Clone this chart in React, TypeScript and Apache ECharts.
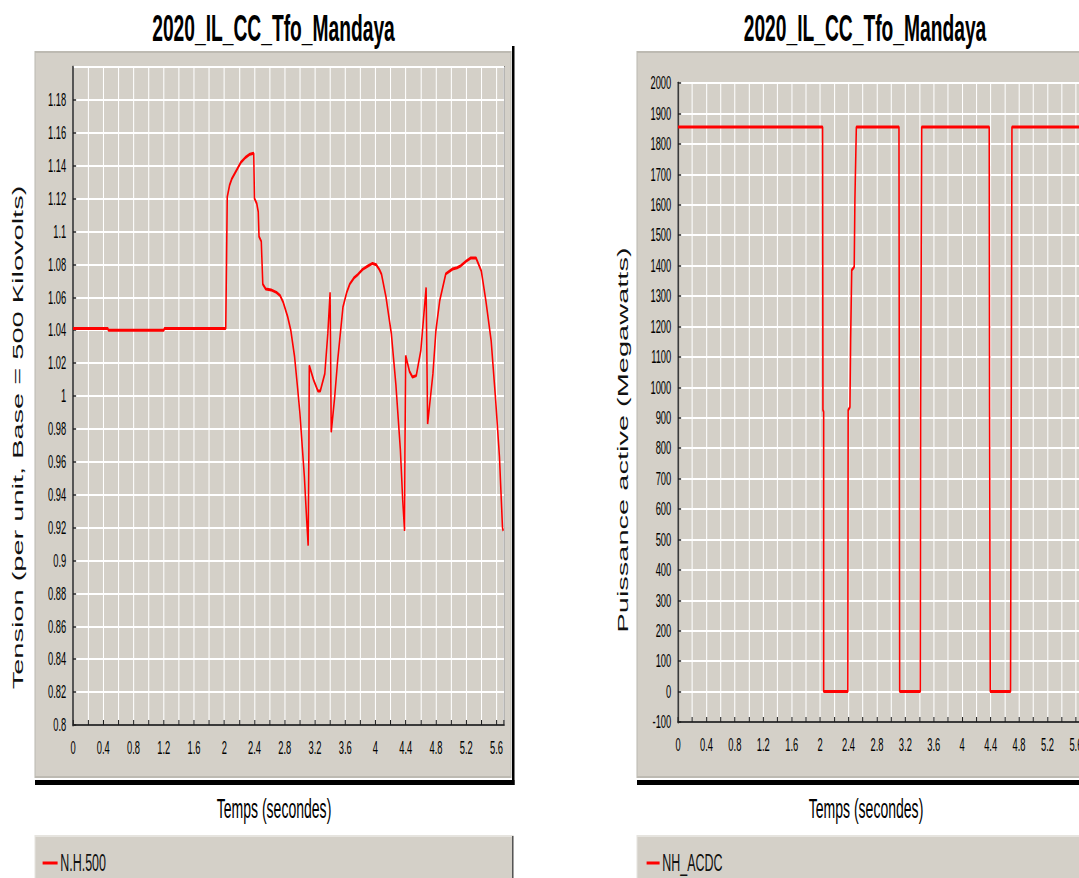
import React, { useEffect, useRef } from "react";
import * as echarts from "echarts";

// ---------- data ----------
const titleText = "2020_IL_CC_Tfo_Mandaya";
const xAxisTitle = "Temps (secondes)";
const leftYTitle = "Tension (per unit, Base = 500 Kilovolts)";
const rightYTitle = "Puissance active (Megawatts)";
const leftSeriesName = "N.H.500";
const rightSeriesName = "NH_ACDC";

const tensionTime = [
  0, 0.46, 0.47, 1.2, 1.21, 2.02, 2.03, 2.04, 2.07, 2.1, 2.16, 2.22, 2.28, 2.34, 2.39,
  2.4, 2.43, 2.45, 2.46, 2.49, 2.51, 2.55, 2.62, 2.69, 2.74, 2.78, 2.84, 2.88, 2.93,
  2.97, 3.0, 3.06, 3.09, 3.11, 3.12, 3.125, 3.18, 3.24, 3.27, 3.33, 3.37, 3.4, 3.415,
  3.46, 3.5, 3.57, 3.62, 3.66, 3.72, 3.77, 3.83, 3.9, 3.96, 4.01, 4.05, 4.08, 4.14,
  4.21, 4.27, 4.33, 4.36, 4.385, 4.39, 4.4, 4.45, 4.49, 4.54, 4.6, 4.67, 4.69, 4.76,
  4.8, 4.85, 4.93, 5.02, 5.08, 5.13, 5.2, 5.26, 5.33, 5.4, 5.46, 5.53, 5.59, 5.64,
  5.68, 5.69,
];
const tensionValue = [
  1.041, 1.041, 1.04, 1.04, 1.041, 1.041, 1.08, 1.121, 1.128, 1.132, 1.137, 1.142, 1.145, 1.147, 1.1476,
  1.12, 1.117, 1.112, 1.097, 1.094, 1.068, 1.065, 1.0645, 1.063, 1.061, 1.057, 1.048, 1.04, 1.024,
  1.005, 0.99, 0.951, 0.925, 0.909, 0.97, 1.0185, 1.01, 1.003, 1.003, 1.0135, 1.038, 1.063, 0.978,
  0.999, 1.0215, 1.054, 1.063, 1.068, 1.072, 1.074, 1.077, 1.079, 1.0806, 1.0798, 1.077, 1.074, 1.06,
  1.038, 1.007, 0.967, 0.937, 0.918, 0.965, 1.0246, 1.015, 1.0115, 1.0124, 1.0276, 1.066, 0.983, 1.0135,
  1.04, 1.058, 1.0742, 1.0772, 1.078, 1.0792, 1.082, 1.0839, 1.0839, 1.076, 1.058, 1.0337, 0.9973, 0.963,
  0.92, 0.918,
];

const powerTime = [
  0, 2.035, 2.04, 2.05, 2.05, 2.39, 2.395, 2.42, 2.43, 2.445, 2.48, 2.49, 2.51,
  3.11, 3.115, 3.12, 3.41, 3.415, 3.43, 4.38, 4.385, 4.395, 4.68, 4.69, 4.7, 5.75,
];
const powerValue = [
  1855, 1855, 925, 920, 0, 0, 925, 935, 1160, 1385, 1395, 1620, 1855,
  1855, 930, 0, 0, 930, 1855, 1855, 930, 0, 0, 930, 1855, 1855,
];

const leftYMin = 0.8;
const leftYMax = 1.2;
const leftYStep = 0.02;
const rightYMin = -100;
const rightYMax = 2000;
const rightYStep = 100;
const xMin = 0;
const xMax = 5.7;
const xStep = 0.2;

// ---------- layout ----------
const S = 0.52; // horizontal squeeze of the whole picture
const CW = 2200;
const CH = 878;
const X = (px: number) => px / S;
const FONT = '"Liberation Sans", Arial, sans-serif';
const PANEL = "#d4d0c8";

function panelGraphics(x0: number, x1: number, titleCx: number, axisCx: number, yTitle: string, yTitleX: number, yTitleY: number) {
  return [
    { type: "rect", silent: true, z: -10, shape: { x: X(x0), y: 52, width: X(x1) - X(x0), height: 725 }, style: { fill: PANEL, stroke: "#bdbab2", lineWidth: 2 } },
    { type: "rect", silent: true, z: -10, shape: { x: X(x1 + 1), y: 46, width: X(x1 + 3.5) - X(x1 + 1), height: 739 }, style: { fill: "#000" } },
    { type: "rect", silent: true, z: -10, shape: { x: X(x0), y: 780, width: X(x1 + 3.5) - X(x0), height: 5 }, style: { fill: "#000" } },
    { type: "rect", silent: true, z: -10, shape: { x: X(x0), y: 836, width: X(x1 + 2) - X(x0), height: 60 }, style: { fill: PANEL, stroke: "#e6e4df", lineWidth: 2 } },
    { type: "rect", silent: true, z: -9, shape: { x: X(x1 + 1), y: 836, width: X(x1 + 2.5) - X(x1 + 1), height: 60 }, style: { fill: "#555" } },
    { type: "text", silent: true, x: X(titleCx), y: 28, style: { text: titleText, font: `bold 37px ${FONT}`, fill: "#000", align: "center", verticalAlign: "middle", textAlign: "center", textVerticalAlign: "middle" } },
    { type: "text", silent: true, x: X(axisCx), y: 809, style: { text: xAxisTitle, font: `27px ${FONT}`, fill: "#000", align: "center", verticalAlign: "middle", textAlign: "center", textVerticalAlign: "middle" } },
    { type: "text", silent: true, x: X(yTitleX), y: yTitleY, rotation: Math.PI / 2, style: { text: yTitle, font: `29px ${FONT}`, fill: "#111", align: "center", verticalAlign: "middle", textAlign: "center", textVerticalAlign: "middle" } },
  ];
}

function xAxisCfg(gridIndex: number) {
  return {
    type: "value",
    gridIndex,
    min: xMin,
    max: xMax,
    interval: xStep,
    axisLine: { show: true, onZero: false, lineStyle: { color: "#3a3a3a", width: 2 } },
    axisTick: { show: true, inside: true, length: 5, lineStyle: { color: "#202020", width: 2 } },
    axisLabel: {
      color: "#000",
      fontSize: 18,
      fontFamily: FONT,
      margin: 14,
      formatter: (v: number) => (Math.round(v * 10) % 4 === 0 ? String(+v.toFixed(1)) : ""),
    },
    splitLine: { show: true, lineStyle: { color: "#ffffff", width: 2 } },
  };
}

function yAxisCfg(gridIndex: number, min: number, max: number, step: number, showMax: boolean) {
  return {
    type: "value",
    gridIndex,
    min,
    max,
    interval: step,
    axisLine: { show: true, onZero: false, lineStyle: { color: "#3a3a3a", width: 3 } },
    axisTick: { show: true, inside: true, length: 6, lineStyle: { color: "#202020", width: 1.5 } },
    axisLabel: {
      color: "#000",
      fontSize: 18,
      fontFamily: FONT,
      margin: 13,
      showMaxLabel: showMax,
      showMinLabel: true,
      formatter: (v: number) => String(+v.toFixed(2)),
    },
    splitLine: { show: true, lineStyle: { color: "#ffffff", width: 2 } },
  };
}

export default function App() {
  const ref = useRef<HTMLDivElement>(null);
  useEffect(() => {
    if (!ref.current) return;
    const chart = echarts.init(ref.current, undefined, { renderer: "svg" });
    const tensionData = tensionTime.map((t, i) => [t, tensionValue[i]]);
    const powerData = powerTime.map((t, i) => [t, powerValue[i]]);
    chart.setOption({
      animation: false,
      backgroundColor: "#ffffff",
      graphic: [
        ...panelGraphics(35, 511, 273.5, 274, leftYTitle, 18, 437.5),
        ...panelGraphics(637, 1113, 865, 866, rightYTitle, 623, 440),
      ],
      grid: [
        { left: X(73), top: 67, width: X(504) - X(73), height: 658, show: true, backgroundColor: PANEL, borderColor: "#404040", borderWidth: 2 },
        { left: X(678), top: 83, width: X(1083) - X(678), height: 639, show: true, backgroundColor: PANEL, borderColor: "#404040", borderWidth: 2 },
      ],
      xAxis: [xAxisCfg(0), xAxisCfg(1)],
      yAxis: [
        yAxisCfg(0, leftYMin, leftYMax, leftYStep, false),
        yAxisCfg(1, rightYMin, rightYMax, rightYStep, true),
      ],
      legend: [
        { data: [leftSeriesName], left: X(40), top: 846, icon: "rect", itemWidth: X(55) - X(40), itemHeight: 3, textStyle: { fontSize: 24, fontFamily: FONT, color: "#111" } },
        { data: [rightSeriesName], left: X(644), top: 846, icon: "rect", itemWidth: X(657) - X(644), itemHeight: 3, textStyle: { fontSize: 24, fontFamily: FONT, color: "#111" } },
      ],
      series: [
        { name: leftSeriesName, type: "line", xAxisIndex: 0, yAxisIndex: 0, data: tensionData, showSymbol: false, color: "#ff0000", lineStyle: { color: "#ff0000", width: 3 }, clip: true },
        { name: rightSeriesName, type: "line", xAxisIndex: 1, yAxisIndex: 1, data: powerData, showSymbol: false, color: "#ff0000", lineStyle: { color: "#ff0000", width: 3 }, clip: true },
      ],
    });
    return () => chart.dispose();
  }, []);
  return (
    <div style={{ position: "fixed", left: 0, top: 0, width: 1079, height: 878, overflow: "hidden", background: "#fff" }}>
      <div ref={ref} style={{ width: CW, height: CH, transform: `scaleX(${S})`, transformOrigin: "0 0" }} />
    </div>
  );
}
